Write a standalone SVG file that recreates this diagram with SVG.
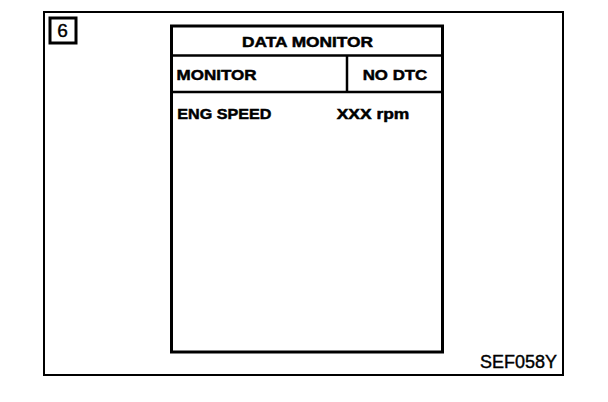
<svg xmlns="http://www.w3.org/2000/svg" width="608" height="402" viewBox="0 0 608 402">
<style>
.b{font-family:"Liberation Sans",Arial,sans-serif;font-weight:bold;font-size:15.5px;fill:#000;stroke:#000;stroke-width:0.5}
.r{font-family:"Liberation Sans",Arial,sans-serif;font-size:18px;fill:#000;stroke:#000;stroke-width:0.4}
.ln{stroke:#000;fill:none}
</style>
<rect width="608" height="402" fill="#fff"/>
<g id="frame">
<rect x="44" y="12" width="519" height="363" class="ln" stroke-width="2"/>
</g>
<g id="step-label">
<rect x="50" y="18" width="26" height="25" class="ln" stroke-width="3"/>
<text x="62.5" y="37" class="r" text-anchor="middle" style="font-size:19px">6</text>
</g>
<g id="panel">
<rect x="171.5" y="26" width="271" height="326" class="ln" stroke-width="3"/>
</g>
<g id="connectors">
<line x1="171" y1="55.5" x2="443" y2="55.5" class="ln" stroke-width="2.5"/>
<line x1="171" y1="92" x2="443" y2="92" class="ln" stroke-width="2.5"/>
<line x1="347" y1="55" x2="347" y2="92" class="ln" stroke-width="2.5"/>
</g>
<g id="title">
<text x="242" y="47.3" class="b" textLength="131" lengthAdjust="spacingAndGlyphs">DATA MONITOR</text>
</g>
<g id="header">
<text x="176.5" y="80" class="b" textLength="80" lengthAdjust="spacingAndGlyphs">MONITOR</text>
<text x="362.7" y="80" class="b" textLength="64.6" lengthAdjust="spacingAndGlyphs">NO DTC</text>
</g>
<g id="row">
<text x="177.3" y="119.3" class="b" textLength="94" lengthAdjust="spacingAndGlyphs">ENG SPEED</text>
<text x="336.7" y="119.3" class="b" textLength="72.6" lengthAdjust="spacingAndGlyphs">XXX rpm</text>
</g>
<g id="code">
<text x="480" y="368" class="r" textLength="77" lengthAdjust="spacingAndGlyphs">SEF058Y</text>
</g>
</svg>
